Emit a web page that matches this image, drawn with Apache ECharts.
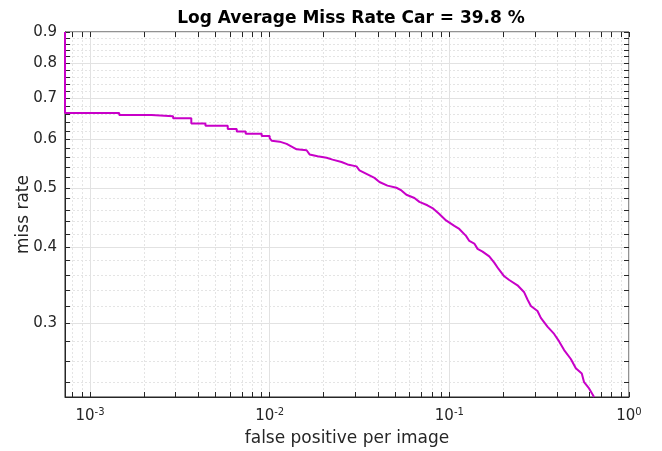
<!DOCTYPE html>
<html>
<head>
<meta charset="utf-8">
<script src="https://cdn.jsdelivr.net/npm/echarts@6/dist/echarts.min.js"></script>
<style>
  html, body { margin: 0; padding: 0; background: #fff; }
  #main { width: 662px; height: 451px; }
</style>
</head>
<body>
<div id="main"></div>
<script>
// MR-FPPI curve, values
var fppi = [
  0.000726, 0.000726, 0.001455, 0.001455, 0.002202, 0.002202, 0.002902, 0.002902,
  0.003664, 0.003664, 0.004393, 0.004393, 0.005844, 0.005844, 0.006557, 0.006557,
  0.007356, 0.007356, 0.009028, 0.009028, 0.0100, 0.0100,
  0.01026, 0.01137, 0.01243, 0.01325, 0.01413, 0.01605, 0.01668, 0.01848,
  0.02074, 0.02239, 0.02512, 0.02714, 0.03043, 0.03162, 0.03503, 0.03831,
  0.04084, 0.04524, 0.05076, 0.05412, 0.05768, 0.06391, 0.06813, 0.07548,
  0.08149, 0.08799, 0.09587, 0.1066, 0.1136, 0.1238, 0.1292, 0.1377,
  0.1436, 0.1531, 0.1668, 0.1778, 0.1879, 0.2021, 0.2154, 0.2395,
  0.2610, 0.2723, 0.2844, 0.3095, 0.3231, 0.3516, 0.3831, 0.4084,
  0.4355, 0.4745, 0.5058, 0.5460, 0.5623, 0.5995, 0.6391
];
var missRate = [
  0.900, 0.663, 0.663, 0.658, 0.658, 0.655, 0.655, 0.650,
  0.650, 0.637, 0.637, 0.632, 0.632, 0.624, 0.624, 0.618,
  0.618, 0.613, 0.613, 0.608, 0.608, 0.603,
  0.597, 0.595, 0.590, 0.584, 0.578, 0.576, 0.567, 0.563,
  0.560, 0.556, 0.551, 0.546, 0.542, 0.534, 0.526, 0.519,
  0.511, 0.504, 0.500, 0.495, 0.487, 0.481, 0.474, 0.468,
  0.462, 0.453, 0.442, 0.433, 0.428, 0.417, 0.409, 0.405,
  0.397, 0.393, 0.386, 0.377, 0.368, 0.358, 0.353, 0.346,
  0.337, 0.328, 0.320, 0.314, 0.306, 0.296, 0.288, 0.280,
  0.271, 0.262, 0.253, 0.248, 0.240, 0.2345, 0.227
];

// axis limits and ticks
var xRange = [0.000726, 1];
var yRange = [0.227, 0.9];
var xMajor = [0.001, 0.01, 0.1, 1];
var xMinor = [0.0008, 0.0009,
  0.002, 0.003, 0.004, 0.005, 0.006, 0.007, 0.008, 0.009,
  0.02, 0.03, 0.04, 0.05, 0.06, 0.07, 0.08, 0.09,
  0.2, 0.3, 0.4, 0.5, 0.6, 0.7, 0.8, 0.9];
var yMajor = [0.3, 0.4, 0.5, 0.6, 0.7, 0.8, 0.9];
var yMinor = [0.24, 0.26, 0.28, 0.32, 0.34, 0.36, 0.38, 0.42, 0.44, 0.46, 0.48,
  0.52, 0.54, 0.56, 0.58, 0.62, 0.64, 0.66, 0.68, 0.72, 0.74, 0.76, 0.78,
  0.82, 0.84, 0.86, 0.88];

var lg = function (v) { return Math.log10(v); };
var inkColor = '#262626';
var font = 'DejaVu Sans';

// one value axis in log10 space; ticks/grid/labels only where asked
function logAxis(range, o) {
  var a = {
    type: 'value',
    min: lg(range[0]),
    max: lg(range[1]),
    position: o.position,
    axisLine: { show: !!o.line, onZero: false, lineStyle: { color: inkColor, width: 1 } },
    axisTick: {
      show: !!o.showTicks, inside: true, length: 5,
      customValues: o.ticks.map(lg),
      lineStyle: { color: inkColor, width: 1 }
    },
    axisLabel: o.label || { show: false },
    splitLine: o.grid ? { show: true, lineStyle: o.grid } : { show: false }
  };
  if (o.name) {
    a.name = o.name;
    a.nameLocation = 'middle';
    a.nameGap = o.nameGap;
    a.nameMoveOverlap = false;
    a.nameTextStyle = { fontFamily: font, fontSize: 17, color: inkColor };
  }
  return a;
}

var majorGrid = { color: '#e2e2e2', width: 1, type: 'solid' };
var minorGrid = { color: '#e4e4e4', width: 1, type: [2, 2] };

var xAll = xMajor.concat(xMinor);
var yAll = yMajor.concat(yMinor);

var xLabel = {
  show: true, margin: 10, fontFamily: font, fontSize: 15, color: inkColor,
  customValues: xMajor.map(lg),
  formatter: function (v) { return '10{sup|' + Math.round(v) + '}'; },
  rich: { sup: { fontFamily: font, fontSize: 10, color: inkColor, padding: [0, 0, 9, 0] } }
};
var yLabel = {
  show: true, margin: 8, fontFamily: font, fontSize: 15, color: inkColor,
  customValues: yMajor.map(lg),
  formatter: function (v) { return Math.pow(10, v).toFixed(1); }
};

var points = fppi.map(function (f, i) { return [lg(f), lg(missRate[i])]; });

var chart = echarts.init(document.getElementById('main'));
chart.setOption({
  animation: false,
  title: {
    text: 'Log Average Miss Rate Car = 39.8 %',
    left: 346, top: 5, textAlign: 'center',
    textStyle: { fontFamily: font, fontSize: 17, fontWeight: 'bold', color: '#000' }
  },
  grid: {
    left: 65, right: 33, top: 32, bottom: 54,
    containLabel: false, outerBoundsMode: 'none',
    show: true, borderColor: inkColor, borderWidth: 1, backgroundColor: '#fff'
  },
  xAxis: [
    logAxis(xRange, { position: 'bottom', ticks: xAll, showTicks: true, label: xLabel, line: true,
      name: 'false positive per image', nameGap: 33 }),
    logAxis(xRange, { position: 'bottom', ticks: xMajor, grid: majorGrid }),
    logAxis(xRange, { position: 'bottom', ticks: xMinor, grid: minorGrid }),
    logAxis(xRange, { position: 'top', ticks: xAll, showTicks: true })
  ],
  yAxis: [
    logAxis(yRange, { position: 'left', ticks: yAll, showTicks: true, label: yLabel, line: true,
      name: 'miss rate', nameGap: 33 }),
    logAxis(yRange, { position: 'left', ticks: yMajor, grid: majorGrid }),
    logAxis(yRange, { position: 'left', ticks: yMinor, grid: minorGrid }),
    logAxis(yRange, { position: 'right', ticks: yAll, showTicks: true })
  ],
  series: [{
    type: 'line',
    xAxisIndex: 0,
    yAxisIndex: 0,
    data: points,
    showSymbol: false,
    clip: true,
    lineStyle: { color: '#c800c8', width: 2 },
    z: 5
  }]
});
</script>
</body>
</html>
